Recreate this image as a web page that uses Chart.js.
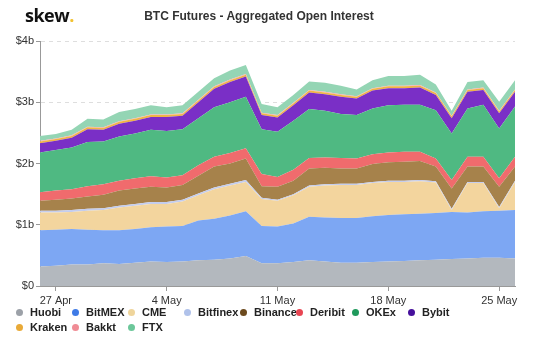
<!DOCTYPE html>
<html lang="en">
<head>
    <meta charset="UTF-8">
    <title>BTC Futures - Aggregated Open Interest</title>
    <script src="https://cdn.jsdelivr.net/npm/chart.js"></script>
    <style>
        body { margin: 0; background: #fff; font-family: "Liberation Sans", Arial, sans-serif; }
        #wrap { position: relative; width: 535px; height: 354px; }
        #logo { position: absolute; left: 25px; top: 3px; font: bold 18px "Open Sans", sans-serif; color: #111; letter-spacing: -0.5px; }
        #logo span { color: #f2c230; }
        #title { position: absolute; left: 0; width: 518px; top: 9px; text-align: center; font: bold 12px "Liberation Sans", Arial, sans-serif; color: #333; }
        #legend { position: absolute; left: 14px; top: 306px; display: grid; grid-template-columns: repeat(8, 56px); row-gap: 2px; }
        #legend div { font: bold 11px "Liberation Sans", Arial, sans-serif; color: #222; white-space: nowrap; height: 13px; line-height: 13px; }
        #legend i { display: inline-block; width: 7px; height: 7px; border-radius: 50%; margin: 0 7px 0 2px; vertical-align: 0; }
    </style>
</head>
<body>
<div id="wrap">
    <canvas id="oiChart" width="535" height="354"></canvas>
    <div id="logo">skew<span>.</span></div>
    <div id="title">BTC Futures - Aggregated Open Interest</div>
    <div id="legend"></div>
</div>

<script>
    // daily points, 26 Apr .. 26 May 2020 (values in $ billions)
    const dates = ['26 Apr','27 Apr','28 Apr','29 Apr','30 Apr','1 May','2 May','3 May','4 May','5 May',
        '6 May','7 May','8 May','9 May','10 May','11 May','12 May','13 May','14 May','15 May',
        '16 May','17 May','18 May','19 May','20 May','21 May','22 May','23 May','24 May','25 May','26 May'];
    const tickLabels = ['27 Apr', '4 May', '11 May', '18 May', '25 May'];

    const huobi = [0.32,0.33,0.35,0.35,0.37,0.36,0.38,0.40,0.39,0.40,0.42,0.43,0.45,0.49,0.37,0.37,0.39,0.42,0.40,0.38,0.38,0.39,0.40,0.41,0.42,0.43,0.44,0.45,0.46,0.46,0.45];
    const bitmex = [0.59,0.59,0.58,0.57,0.54,0.55,0.55,0.56,0.58,0.58,0.65,0.67,0.70,0.73,0.61,0.60,0.63,0.71,0.72,0.73,0.73,0.75,0.76,0.76,0.76,0.76,0.77,0.75,0.76,0.77,0.79];
    const cme = [0.29,0.28,0.28,0.31,0.33,0.37,0.38,0.38,0.37,0.40,0.41,0.48,0.49,0.48,0.44,0.42,0.46,0.49,0.52,0.54,0.54,0.54,0.54,0.53,0.53,0.50,0.03,0.48,0.46,0.04,0.46];
    const bitfinex = [0.03,0.03,0.03,0.03,0.03,0.03,0.03,0.03,0.03,0.03,0.03,0.03,0.03,0.03,0.02,0.02,0.02,0.02,0.02,0.02,0.02,0.02,0.02,0.02,0.02,0.02,0.02,0.02,0.02,0.02,0.02];
    const binance = [0.16,0.18,0.19,0.20,0.22,0.25,0.25,0.25,0.24,0.24,0.29,0.34,0.33,0.35,0.19,0.21,0.22,0.28,0.27,0.25,0.25,0.29,0.30,0.31,0.31,0.24,0.33,0.25,0.25,0.33,0.23];
    const deribit = [0.14,0.15,0.15,0.17,0.17,0.16,0.17,0.17,0.16,0.16,0.17,0.16,0.17,0.17,0.20,0.16,0.18,0.17,0.17,0.17,0.16,0.16,0.16,0.16,0.15,0.13,0.14,0.16,0.16,0.14,0.16];
    const okex = [0.65,0.66,0.68,0.72,0.70,0.72,0.73,0.76,0.76,0.75,0.77,0.81,0.83,0.84,0.73,0.74,0.80,0.80,0.76,0.72,0.71,0.75,0.77,0.77,0.77,0.79,0.76,0.79,0.85,0.81,0.82];
    const bybit = [0.15,0.15,0.16,0.21,0.19,0.21,0.21,0.21,0.23,0.22,0.26,0.30,0.33,0.33,0.23,0.23,0.25,0.27,0.27,0.28,0.27,0.29,0.28,0.27,0.28,0.25,0.25,0.27,0.24,0.25,0.24];
    const kraken = [0.03,0.03,0.03,0.03,0.03,0.03,0.03,0.03,0.03,0.03,0.03,0.03,0.03,0.03,0.03,0.03,0.03,0.03,0.03,0.03,0.03,0.03,0.03,0.03,0.03,0.03,0.03,0.03,0.03,0.03,0.03];
    const bakkt = [0.01,0.01,0.01,0.01,0.01,0.01,0.01,0.01,0.01,0.01,0.01,0.01,0.01,0.01,0.01,0.01,0.01,0.01,0.01,0.01,0.01,0.01,0.01,0.01,0.01,0.01,0.01,0.01,0.01,0.01,0.01];
    const ftx = [0.08,0.07,0.09,0.13,0.13,0.15,0.15,0.15,0.12,0.13,0.13,0.13,0.15,0.15,0.14,0.13,0.13,0.14,0.15,0.14,0.11,0.13,0.16,0.16,0.17,0.13,0.08,0.12,0.12,0.15,0.15];

    const series = [
        { label: 'Huobi',    data: huobi,    fill: '#b3b8be', dot: '#9ca1a8' },
        { label: 'BitMEX',   data: bitmex,   fill: '#7da7f3', dot: '#3f7be6' },
        { label: 'CME',      data: cme,      fill: '#f3d59e', dot: '#efd59c' },
        { label: 'Bitfinex', data: bitfinex, fill: '#c4cdee', dot: '#b0c2ea' },
        { label: 'Binance',  data: binance,  fill: '#a6824b', dot: '#6c4a1e' },
        { label: 'Deribit',  data: deribit,  fill: '#f06b6d', dot: '#e84552' },
        { label: 'OKEx',     data: okex,     fill: '#4fb982', dot: '#1f9a5c' },
        { label: 'Bybit',    data: bybit,    fill: '#7a2fc6', dot: '#46109c' },
        { label: 'Kraken',   data: kraken,   fill: '#f0b445', dot: '#e9aa38' },
        { label: 'Bakkt',    data: bakkt,    fill: '#f6a8ad', dot: '#f08c95' },
        { label: 'FTX',      data: ftx,      fill: '#94d5b4', dot: '#6cc79a' }
    ];

    // legend
    const legend = document.getElementById('legend');
    series.forEach(s => {
        const d = document.createElement('div');
        d.innerHTML = '<i style="background:' + s.dot + '"></i>' + s.label;
        legend.appendChild(d);
    });

    const ctx = document.getElementById('oiChart').getContext('2d');
    new Chart(ctx, {
        type: 'line',
        data: {
            labels: dates,
            datasets: series.map((s, i) => ({
                label: s.label,
                data: s.data,
                backgroundColor: s.fill,
                borderWidth: 0,
                pointRadius: 0,
                tension: 0,
                fill: i === 0 ? 'origin' : '-1'
            }))
        },
        options: {
            responsive: false,
            animation: false,
            layout: { padding: { top: 41, right: 20, bottom: 46, left: 0 } },
            plugins: { legend: { display: false }, tooltip: { enabled: false } },
            scales: {
                x: {
                    offset: false,
                    grid: {
                        drawOnChartArea: false,
                        tickLength: 5,
                        color: c => tickLabels.includes(dates[c.index]) ? '#999' : 'rgba(0,0,0,0)'
                    },
                    border: { color: '#999' },
                    ticks: {
                        autoSkip: false,
                        maxRotation: 0,
                        color: '#333',
                        font: { family: 'Liberation Sans', size: 11 },
                        padding: 3,
                        callback: (v, i) => tickLabels.includes(dates[i]) ? dates[i] : ''
                    },
                    afterFit: s => { s.height = 22; }
                },
                y: {
                    stacked: true,
                    min: 0,
                    max: 4,
                    grid: { color: '#dedede', tickLength: 4, tickColor: '#999' },
                    border: { color: '#999', dash: [4, 4] },
                    ticks: {
                        stepSize: 1,
                        color: '#333',
                        font: { family: 'Liberation Sans', size: 11 },
                        padding: 2,
                        callback: v => v === 0 ? '$0' : '$' + v + 'b'
                    },
                    afterFit: s => { s.width = 40; }
                }
            }
        }
    });
</script>
</body>
</html>
